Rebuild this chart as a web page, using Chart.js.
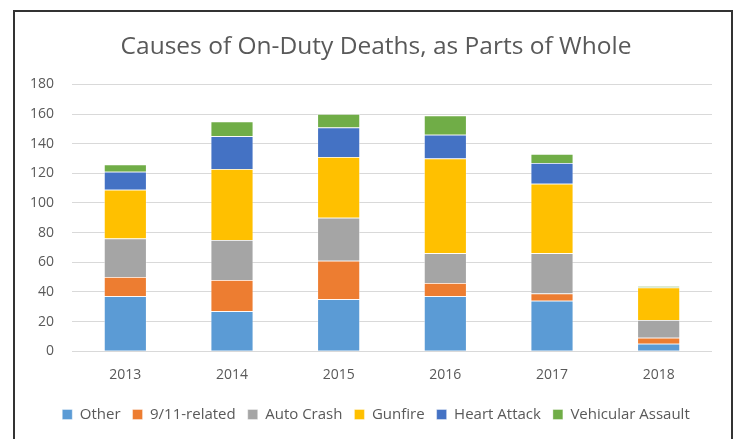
<!DOCTYPE html>
<html>
<head>
<meta charset="utf-8">
<script src="https://cdn.jsdelivr.net/npm/chart.js@4/dist/chart.umd.min.js"></script>
<style>
  html, body { margin: 0; padding: 0; background: #fff; overflow: hidden; }
  #wrap { position: absolute; left: 0; top: 0; width: 736px; height: 439px; }
  #frame {
    position: absolute; left: 13px; top: 10px; width: 720px; height: 500px;
    box-sizing: border-box; border: 2px solid #333; pointer-events: none;
  }
</style>
</head>
<body>
<div id="wrap">
  <canvas id="deathsChart" width="736" height="439"></canvas>
  <div id="frame"></div>
</div>
<script>
var years = ["2013", "2014", "2015", "2016", "2017", "2018"];
var other = [37, 27, 35, 37, 34, 5];
var nineEleven = [13, 21, 26, 9, 5, 4];
var autoCrash = [26, 27, 29, 20, 27, 12];
var gunfire = [33, 48, 41, 64, 47, 22];
var heartAttack = [12, 22, 20, 16, 14, 0];
var vehicular = [5, 10, 9, 13, 6, 1];
var yTicks = [0, 20, 40, 60, 80, 100, 120, 140, 160, 180];

var seriesNames = ["Other", "9/11-related", "Auto Crash", "Gunfire", "Heart Attack", "Vehicular Assault"];
var seriesData = [other, nineEleven, autoCrash, gunfire, heartAttack, vehicular];
var colors = ["#5B9BD5", "#ED7D31", "#A5A5A5", "#FFC000", "#4472C4", "#70AD47"];

var fontName = "'Open Sans', sans-serif";

new Chart("deathsChart", {
  type: "bar",
  data: {
    labels: years,
    datasets: seriesNames.map(function (name, i) {
      return {
        label: name,
        data: seriesData[i],
        backgroundColor: colors[i],
        borderColor: "rgba(255,255,255,0.5)",
        borderWidth: 0.75,
        barPercentage: 0.4,
        categoryPercentage: 1,
      };
    }),
  },
  options: {
    responsive: false,
    animation: false,
    layout: { padding: { top: 0, right: 4, bottom: 7, left: 20 } },
    plugins: {
      title: {
        display: true,
        text: "Causes of On-Duty Deaths, as Parts of Whole",
        color: "#595959",
        font: { family: fontName, size: 24.5, weight: "normal" },
        padding: { top: 32, bottom: 23 },
      },
      legend: {
        position: "bottom",
        labels: {
          color: "#595959",
          font: { family: fontName, size: 15 },
          boxWidth: 10,
          boxHeight: 10,
          padding: 12,
        },
      },
      tooltip: { enabled: false },
    },
    scales: {
      x: {
        stacked: true,
        afterFit: function (scale) { scale.height += 5; },
        grid: { display: false },
        border: { display: false },
        ticks: { color: "#595959", font: { family: fontName, size: 14 }, padding: 7 },
      },
      y: {
        stacked: true,
        min: 0,
        max: 180,
        afterBuildTicks: function (scale) {
          scale.ticks = yTicks.map(function (v) { return { value: v }; });
        },
        afterFit: function (scale) { scale.width = 52; },
        grid: { color: "#D9D9D9", drawTicks: false },
        border: { display: false },
        ticks: { color: "#595959", font: { family: fontName, size: 14 }, padding: 18 },
      },
      yRight: {
        position: "right",
        afterFit: function (scale) { scale.width = 20; },
        grid: { display: false },
        border: { display: false },
        ticks: { display: false },
      },
    },
  },
});
</script>
</body>
</html>
